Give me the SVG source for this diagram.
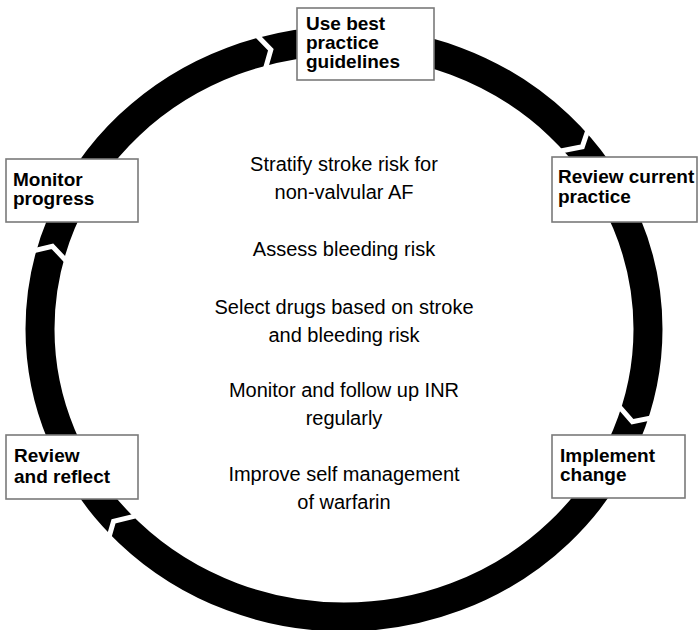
<svg xmlns="http://www.w3.org/2000/svg" width="698" height="630" viewBox="0 0 698 630">
<style>
.ring{fill:none;stroke:#000;stroke-width:29}
.gap{fill:none;stroke:#fff;stroke-width:5;stroke-linejoin:miter}
.box{fill:#fff;stroke:#7a7a7a;stroke-width:1.6}
.lbl{font-family:"Liberation Sans",Arial,sans-serif;font-size:19px;font-weight:bold;fill:#000}
.mid{font-family:"Liberation Sans",Arial,sans-serif;font-size:20px;fill:#000;text-anchor:middle}
</style>
<rect width="698" height="630" fill="#fff"/>
<g id="connectors">
<ellipse class="ring" cx="344" cy="329" rx="304" ry="288"/>
<polyline class="gap" transform="translate(266,51) rotate(-14.1)" points="-6,-19 5,0 -6,19"/>
<polyline class="gap" transform="translate(579,143) rotate(48.7)" points="-6,-19 5,0 -6,19"/>
<polyline class="gap" transform="translate(634,417) rotate(108.7)" points="-6,-19 5,0 -6,19"/>
<polyline class="gap" transform="translate(117,525) rotate(-133.8)" points="-6,-19 5,0 -6,19"/>
<polyline class="gap" transform="translate(51,251) rotate(-73.4)" points="-6,-19 5,0 -6,19"/>
</g>
<g id="node-use-best">
<rect class="box" x="297" y="8" width="137" height="72"/>
<text class="lbl" x="306" y="30">Use best</text>
<text class="lbl" x="306" y="49">practice</text>
<text class="lbl" x="306" y="68">guidelines</text>
</g>
<g id="node-review-current">
<rect class="box" x="552" y="157" width="145" height="65"/>
<text class="lbl" x="558" y="183">Review current</text>
<text class="lbl" x="558" y="203">practice</text>
</g>
<g id="node-implement">
<rect class="box" x="552" y="435" width="133" height="63"/>
<text class="lbl" x="560" y="462">Implement</text>
<text class="lbl" x="560" y="481">change</text>
</g>
<g id="node-review-reflect">
<rect class="box" x="6" y="435" width="132" height="64"/>
<text class="lbl" x="14" y="462">Review</text>
<text class="lbl" x="14" y="483">and reflect</text>
</g>
<g id="node-monitor">
<rect class="box" x="6" y="159" width="132" height="63"/>
<text class="lbl" x="13" y="186">Monitor</text>
<text class="lbl" x="13" y="205">progress</text>
</g>
<g id="centre-text">
<text class="mid" x="344" y="171">Stratify stroke risk for</text>
<text class="mid" x="344" y="199">non-valvular AF</text>
<text class="mid" x="344" y="256">Assess bleeding risk</text>
<text class="mid" x="344" y="314">Select drugs based on stroke</text>
<text class="mid" x="344" y="342">and bleeding risk</text>
<text class="mid" x="344" y="397">Monitor and follow up INR</text>
<text class="mid" x="344" y="425">regularly</text>
<text class="mid" x="344" y="481">Improve self management</text>
<text class="mid" x="344" y="509">of warfarin</text>
</g>
</svg>
